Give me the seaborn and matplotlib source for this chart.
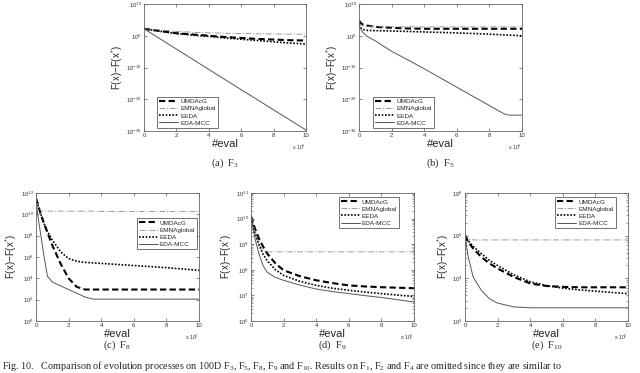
import numpy as np
import pandas as pd
import matplotlib
matplotlib.use("Agg")
import matplotlib.pyplot as plt
import seaborn as sns

# ---------------- data (x in units of 1e5 evaluations, y as log10 values) -------------
series_names = ["UMDAcG", "EMNAglobal", "EEDA", "EDA-MCC"]

f3_x = [0, 1, 2, 3, 4, 5, 6, 7, 8, 9, 10]
f3_umda = [2.2, 1.5, 0.8, 0.4, 0.0, -0.4, -0.7, -1.0, -1.2, -1.4, -1.5]
f3_emna = [2.2, 1.8, 1.4, 1.1, 0.9, 0.8, 0.7, 0.6, 0.55, 0.5, 0.5]
f3_eeda = [2.2, 1.4, 0.7, 0.2, -0.2, -0.7, -1.1, -1.5, -1.9, -2.3, -2.6]
f3_mcc_x = [0, 5, 10]
f3_mcc = [2.2, -13.8, -29.7]

f5_x = [0, 0.1, 0.25, 0.5, 1, 2, 3, 4, 5, 6, 7, 8, 8.8, 9, 9.2, 10]
f5_umda = [4.8, 4.0, 3.5, 3.2, 2.8, 2.5, 2.3, 2.2, 2.2, 2.2, 2.2, 2.2, 2.2, 2.2, 2.2, 2.2]
f5_emna = [4.0, 3.5, 3.2, 3.0, 2.9, 2.8, 2.8, 2.8, 2.8, 2.8, 2.8, 2.8, 2.8, 2.8, 2.8, 2.8]
f5_eeda = [3.5, 2.5, 2.0, 1.7, 1.6, 1.5, 1.35, 1.2, 1.05, 0.9, 0.7, 0.5, 0.3, 0.25, 0.2, 0.0]
f5_mcc = [3.5, 2.3, 1.0, -0.2, -1.6, -4.9, -7.6, -10.4, -13.3, -16.2, -19.1, -22.0, -24.3, -24.8, -25.0, -25.0]

f8_x = [0, 0.1, 0.3, 0.5, 0.7, 1, 1.5, 2, 2.5, 3, 3.5, 4, 6, 8, 10]
f8_umda = [11.5, 11.0, 10.0, 9.1, 8.3, 7.1, 5.4, 4.0, 3.2, 2.95, 2.95, 2.95, 2.95, 2.95, 2.95]
f8_emna = [11.5, 10.7, 10.35, 10.3, 10.3, 10.3, 10.3, 10.3, 10.3, 10.3, 10.3, 10.28, 10.27, 10.26, 10.25]
f8_eeda = [11.5, 11.0, 10.0, 9.1, 8.4, 7.6, 6.5, 5.85, 5.6, 5.5, 5.45, 5.4, 5.2, 5.0, 4.75]
f8_mcc = [11.5, 10.0, 8.0, 6.0, 4.2, 3.65, 3.3, 2.95, 2.6, 2.25, 2.05, 2.05, 2.05, 2.05, 2.05]

f9_x = [0, 0.25, 0.5, 0.75, 1, 1.5, 2, 3, 4, 5, 6, 7, 8, 9, 10]
f9_umda = [10.1, 9.6, 9.2, 8.9, 8.63, 8.25, 7.98, 7.75, 7.59, 7.48, 7.39, 7.35, 7.32, 7.30, 7.28]
f9_emna = [10.1, 9.5, 9.0, 8.75, 8.7, 8.7, 8.7, 8.7, 8.7, 8.7, 8.7, 8.7, 8.7, 8.7, 8.7]
f9_eeda = [10.0, 9.4, 8.95, 8.6, 8.35, 8.0, 7.78, 7.55, 7.39, 7.28, 7.2, 7.13, 7.07, 7.01, 6.96]
f9_mcc = [10.0, 9.2, 8.6, 8.15, 7.9, 7.7, 7.59, 7.4, 7.25, 7.15, 7.07, 6.99, 6.92, 6.83, 6.74]

f10_x = [0, 0.2, 0.5, 1, 1.5, 2, 3, 4, 5, 6, 7, 8, 9, 10]
f10_umda = [5.0, 4.85, 4.7, 4.5, 4.35, 4.23, 4.03, 3.88, 3.82, 3.8, 3.79, 3.79, 3.79, 3.79]
f10_emna = [5.05, 4.92, 4.9, 4.9, 4.9, 4.9, 4.9, 4.9, 4.9, 4.9, 4.9, 4.9, 4.9, 4.9]
f10_eeda = [5.0, 4.88, 4.75, 4.58, 4.42, 4.3, 4.08, 3.92, 3.83, 3.77, 3.73, 3.7, 3.67, 3.64]
f10_mcc = [5.0, 4.5, 4.03, 3.72, 3.52, 3.42, 3.33, 3.31, 3.31, 3.31, 3.31, 3.31, 3.31, 3.31]

x_ticks = [0, 2, 4, 6, 8, 10]
captions = [r"(a)  $F_3$", r"(b)  $F_5$", r"(c)  $F_8$", r"(d)  $F_9$", r"(e)  $F_{10}$"]

# ---------------- style -------------------------------------------------------------
sns.set_style("ticks")
plt.rcParams["font.family"] = ["Liberation Sans", "DejaVu Sans"]
plt.rcParams["mathtext.default"] = "regular"

styles = {
    "UMDAcG": dict(color="black", linewidth=1.5, linestyle=(0, (3, 1.6))),
    "EMNAglobal": dict(color="#8a8a8a", linewidth=0.6, linestyle=(0, (7, 2, 1.2, 2))),
    "EEDA": dict(color="black", linewidth=1.2, linestyle=(0, (1, 1))),
    "EDA-MCC": dict(color="#555555", linewidth=0.7, linestyle="-"),
}

W, H = 640, 373
fig = plt.figure(figsize=(W / 100, H / 100), dpi=100)


def rect(l, r, t, b):
    return [l / W, (H - b) / H, (r - l) / W, (b - t) / H]


panels = [
    dict(pos=rect(144, 306, 4, 131),
         data=[(f3_x, f3_umda), (f3_x, f3_emna), (f3_x, f3_eeda), (f3_mcc_x, f3_mcc)],
         ylim=(-30, 10), yt=[-30, -20, -10, 0, 10], minor=False,
         leg=dict(loc="lower left", bbox_to_anchor=(0.08, 0.025)),
         cap=(225, 163)),
    dict(pos=rect(359, 522, 4, 131),
         data=[(f5_x, f5_umda), (f5_x, f5_emna), (f5_x, f5_eeda), (f5_x, f5_mcc)],
         ylim=(-30, 10), yt=[-30, -20, -10, 0, 10], minor=False,
         leg=dict(loc="lower left", bbox_to_anchor=(0.085, 0.025)),
         cap=(440, 163)),
    dict(pos=rect(36, 199, 193, 321),
         data=[(f8_x, f8_umda), (f8_x, f8_emna), (f8_x, f8_eeda), (f8_x, f8_mcc)],
         ylim=(0, 12), yt=[0, 2, 4, 6, 8, 10, 12], minor=False,
         leg=dict(loc="upper right", bbox_to_anchor=(0.99, 0.805)),
         cap=(117, 345)),
    dict(pos=rect(251, 414, 193, 321),
         data=[(f9_x, f9_umda), (f9_x, f9_emna), (f9_x, f9_eeda), (f9_x, f9_mcc)],
         ylim=(6, 11), yt=[6, 7, 8, 9, 10, 11], minor=True,
         leg=dict(loc="upper right", bbox_to_anchor=(0.91, 0.97)),
         cap=(332, 345)),
    dict(pos=rect(465, 628, 193, 321),
         data=[(f10_x, f10_umda), (f10_x, f10_emna), (f10_x, f10_eeda), (f10_x, f10_mcc)],
         ylim=(3, 6), yt=[3, 4, 5, 6], minor=True,
         leg=dict(loc="upper right", bbox_to_anchor=(0.925, 0.97)),
         cap=(547, 345)),
]

for i, p in enumerate(panels):
    ax = fig.add_axes(p["pos"])
    ax.set_yscale("log")
    for name, (xs, ys) in zip(series_names, p["data"]):
        df = pd.DataFrame({"x": xs, "y": np.power(10.0, np.array(ys, dtype=float))})
        sns.lineplot(data=df, x="x", y="y", ax=ax, label=name, sort=False, **styles[name])
    ax.set_xlim(0, 10)
    ax.set_ylim(10.0 ** p["ylim"][0], 10.0 ** p["ylim"][1])
    ax.set_xticks(x_ticks)
    ax.set_yticks([10.0 ** e for e in p["yt"]])
    ax.set_yticklabels([r"10$^{%d}$" % e for e in p["yt"]])
    if p["minor"]:
        ax.yaxis.set_minor_locator(matplotlib.ticker.LogLocator(base=10, subs=np.arange(2, 10)))
        ax.yaxis.set_minor_formatter(matplotlib.ticker.NullFormatter())
    else:
        ax.yaxis.set_minor_locator(matplotlib.ticker.NullLocator())
    ax.tick_params(which="major", direction="in", top=True, right=True, length=2.5,
                   width=0.5, pad=1.5, labelsize=4.3, colors="#555555", labelcolor="#333333")
    ax.tick_params(which="minor", direction="in", left=True, right=True, length=1.3, width=0.4,
                   colors="#555555")
    for sp in ax.spines.values():
        sp.set_linewidth(0.6)
        sp.set_color("#666666")
    ax.set_xlabel("#eval", fontsize=8, labelpad=0.5)
    ax.set_ylabel(r"F(x)$-$F(x$^{*}$)", fontsize=7, labelpad=1)
    ax.text(1.0, -0.09, r"x 10$^{5}$", transform=ax.transAxes, ha="right", va="top",
            fontsize=3.8, color="#333333")
    leg = ax.legend(fontsize=4.6, frameon=True, fancybox=False, borderaxespad=0,
                    handlelength=3.0, handletextpad=0.3, labelspacing=0.25,
                    borderpad=0.35, **p["leg"])
    leg.get_frame().set_edgecolor("#333333")
    leg.get_frame().set_linewidth(0.6)
    cx, cy = p["cap"]
    fig.text(cx / W, (H - cy) / H, captions[i], ha="center", va="center", fontsize=7.5,
             family="Liberation Serif", math_fontfamily="cm")

fig.text(0.003, (H - 366) / H,
         r"Fig. 10.   Comparison of evolution processes on 100D $F_3$, $F_5$, $F_8$, $F_9$ and $F_{10}$. "
         r"Results on $F_1$, $F_2$ and $F_4$ are omitted since they are similar to",
         ha="left", va="center", fontsize=7.3, family="Liberation Serif", math_fontfamily="cm")

fig.savefig("out.png", dpi=100)
